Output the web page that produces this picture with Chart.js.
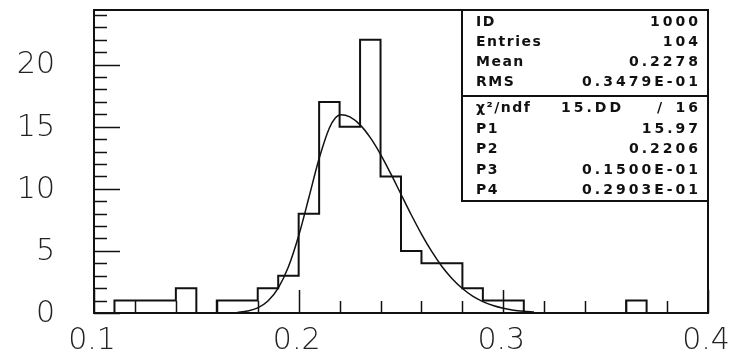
<!DOCTYPE html>
<html>
<head>
<meta charset="utf-8">
<script src="https://cdn.jsdelivr.net/npm/chart.js@4.4.1/dist/chart.umd.min.js"></script>
<style>
  html, body { margin: 0; padding: 0; background: #fff; }
  #wrap { width: 741px; height: 354px; }
</style>
</head>
<body>
<div id="wrap"><canvas id="histo"></canvas></div>
<script>
// histogram 1000: bin edges (0.01 wide) and entries per bin
const binEdges = [0.10, 0.11, 0.12, 0.13, 0.14, 0.15, 0.16, 0.17, 0.18, 0.19,
                  0.20, 0.21, 0.22, 0.23, 0.24, 0.25, 0.26, 0.27, 0.28, 0.29,
                  0.30, 0.31, 0.32, 0.33, 0.34, 0.35, 0.36, 0.37, 0.38, 0.39, 0.40]
const counts = [0, 1, 1, 1, 2, 0, 1, 1, 2, 3,
                8, 17, 15, 22, 11, 5, 4, 4, 2, 1,
                1, 0, 0, 0, 0, 0, 1, 0, 0, 0]

// fitted curve
const fitX = [0.170, 0.175, 0.180, 0.185, 0.190, 0.195, 0.200, 0.205, 0.210, 0.215,
              0.218, 0.2206, 0.225, 0.230, 0.235, 0.240, 0.245, 0.250, 0.255, 0.260,
              0.265, 0.270, 0.275, 0.280, 0.285, 0.290, 0.295, 0.300, 0.305, 0.310, 0.315]
const fitY = [0.05, 0.16, 0.41, 0.96, 2.0, 3.72, 6.22, 9.30, 12.44, 14.90,
              15.73, 15.97, 15.79, 15.15, 14.12, 12.78, 11.22, 9.56, 7.91, 6.36,
              4.96, 3.75, 2.76, 1.97, 1.36, 0.92, 0.60, 0.38, 0.23, 0.14, 0.08]

const xTickLabels = [0.1, 0.2, 0.3, 0.4]
const yTickLabels = [0, 5, 10, 15, 20]

// stats box text
const statsTop = [['ID', '1000'], ['Entries', '104'], ['Mean', '0.2278'], ['RMS', '0.3479E-01']]
const statsFit = [['P1', '15.97'], ['P2', '0.2206'], ['P3', '0.1500E-01'], ['P4', '0.2903E-01']]
const chiRow = ['\u03C7\u00B2/ndf', '15.DD', '/', '16']

const histPoints = counts.map((c, i) => ({ x: binEdges[i], y: c }))
histPoints.push({ x: binEdges[binEdges.length - 1], y: 0 })
const fitPoints = fitX.map((x, i) => ({ x: x, y: fitY[i] }))

const labelFont = "200 30px 'DejaVu Sans ExtraLight', 'DejaVu Sans Light', 'DejaVu Sans', sans-serif"

// frame, inward ticks, axis labels and the stats box
const pawStyle = {
    id: 'pawStyle',
    beforeDraw(chart) {
        const ctx = chart.ctx
        ctx.save()
        ctx.fillStyle = '#fff'
        ctx.fillRect(0, 0, chart.width, chart.height)
        ctx.restore()
    },
    afterDraw(chart) {
        const ctx = chart.ctx
        const a = chart.chartArea
        const xs = chart.scales.x, ys = chart.scales.y
        ctx.save()
        ctx.strokeStyle = '#111'
        ctx.lineWidth = 1.5
        ctx.beginPath()
        for (let i = 0; i <= 15; i++) {
            const px = Math.round(xs.getPixelForValue(0.1 + i * 0.02)) + 0.5
            const len = i % 5 === 0 ? 23 : 12
            ctx.moveTo(px, a.bottom)
            ctx.lineTo(px, a.bottom - len)
        }
        for (let i = 0; i <= 24; i++) {
            const py = Math.round(ys.getPixelForValue(i)) + 0.5
            const len = i % 5 === 0 ? 26 : 13
            ctx.moveTo(a.left, py)
            ctx.lineTo(a.left + len, py)
        }
        ctx.stroke()

        // frame
        ctx.lineWidth = 2
        ctx.strokeRect(a.left, a.top, a.right - a.left, a.bottom - a.top)

        // axis labels
        ctx.fillStyle = '#222'
        ctx.font = labelFont
        ctx.textBaseline = 'middle'
        ctx.textAlign = 'center'
        xTickLabels.forEach(v => {
            ctx.fillText(v.toFixed(1), xs.getPixelForValue(v) - 2, a.bottom + 28)
        })
        ctx.textAlign = 'right'
        yTickLabels.forEach(v => {
            ctx.fillText(String(v), a.left - 39, ys.getPixelForValue(v) + 1)
        })

        // stats box
        const bx = 462, by = a.top, bw = a.right - 462, bh = 191
        ctx.fillStyle = '#fff'
        ctx.fillRect(bx, by, bw, bh)
        ctx.strokeRect(bx, by, bw, bh)
        ctx.beginPath()
        ctx.moveTo(bx, by + 86)
        ctx.lineTo(bx + bw, by + 86)
        ctx.stroke()

        ctx.fillStyle = '#111'
        ctx.font = "bold 14px 'DejaVu Sans', sans-serif"
        ctx.textBaseline = 'middle'
        const lx = 476, rx = 701
        const putRow = (label, value, y) => {
            ctx.letterSpacing = '1.5px'
            ctx.textAlign = 'left'
            ctx.fillText(label, lx, y)
            ctx.letterSpacing = '3px'
            ctx.textAlign = 'right'
            ctx.fillText(value, rx, y)
        }
        statsTop.forEach((row, i) => putRow(row[0], row[1], by + 12 + i * 20))
        putRow(chiRow[0], chiRow[3], by + 98)
        ctx.textAlign = 'left'
        ctx.fillText(chiRow[1], 561, by + 98)
        ctx.fillText(chiRow[2], 657, by + 98)
        statsFit.forEach((row, i) => putRow(row[0], row[1], by + 119 + i * 20.5))
        ctx.restore()
    }
}

const ctx_histo = document.getElementById('histo').getContext('2d')
const histoChart = new Chart(ctx_histo, {
    type: 'line',
    data: {
        datasets: [
            {
                data: histPoints,
                stepped: 'before',
                borderColor: '#111',
                borderWidth: 2,
                pointRadius: 0,
                fill: false,
            },
            {
                data: fitPoints,
                borderColor: '#111',
                borderWidth: 1.5,
                pointRadius: 0,
                cubicInterpolationMode: 'monotone',
                fill: false,
            }
        ]
    },
    options: {
        responsive: true,
        maintainAspectRatio: false,
        animation: false,
        layout: { autoPadding: false, padding: { top: 10, right: 33, left: 94, bottom: 41 } },
        plugins: {
            legend: { display: false },
            title: { display: false },
            tooltip: { enabled: false },
        },
        scales: {
            x: { type: 'linear', min: 0.1, max: 0.4, display: false },
            y: { min: 0, max: 24.4, display: false }
        },
    },
    plugins: [pawStyle],
})
</script>
</body>
</html>
